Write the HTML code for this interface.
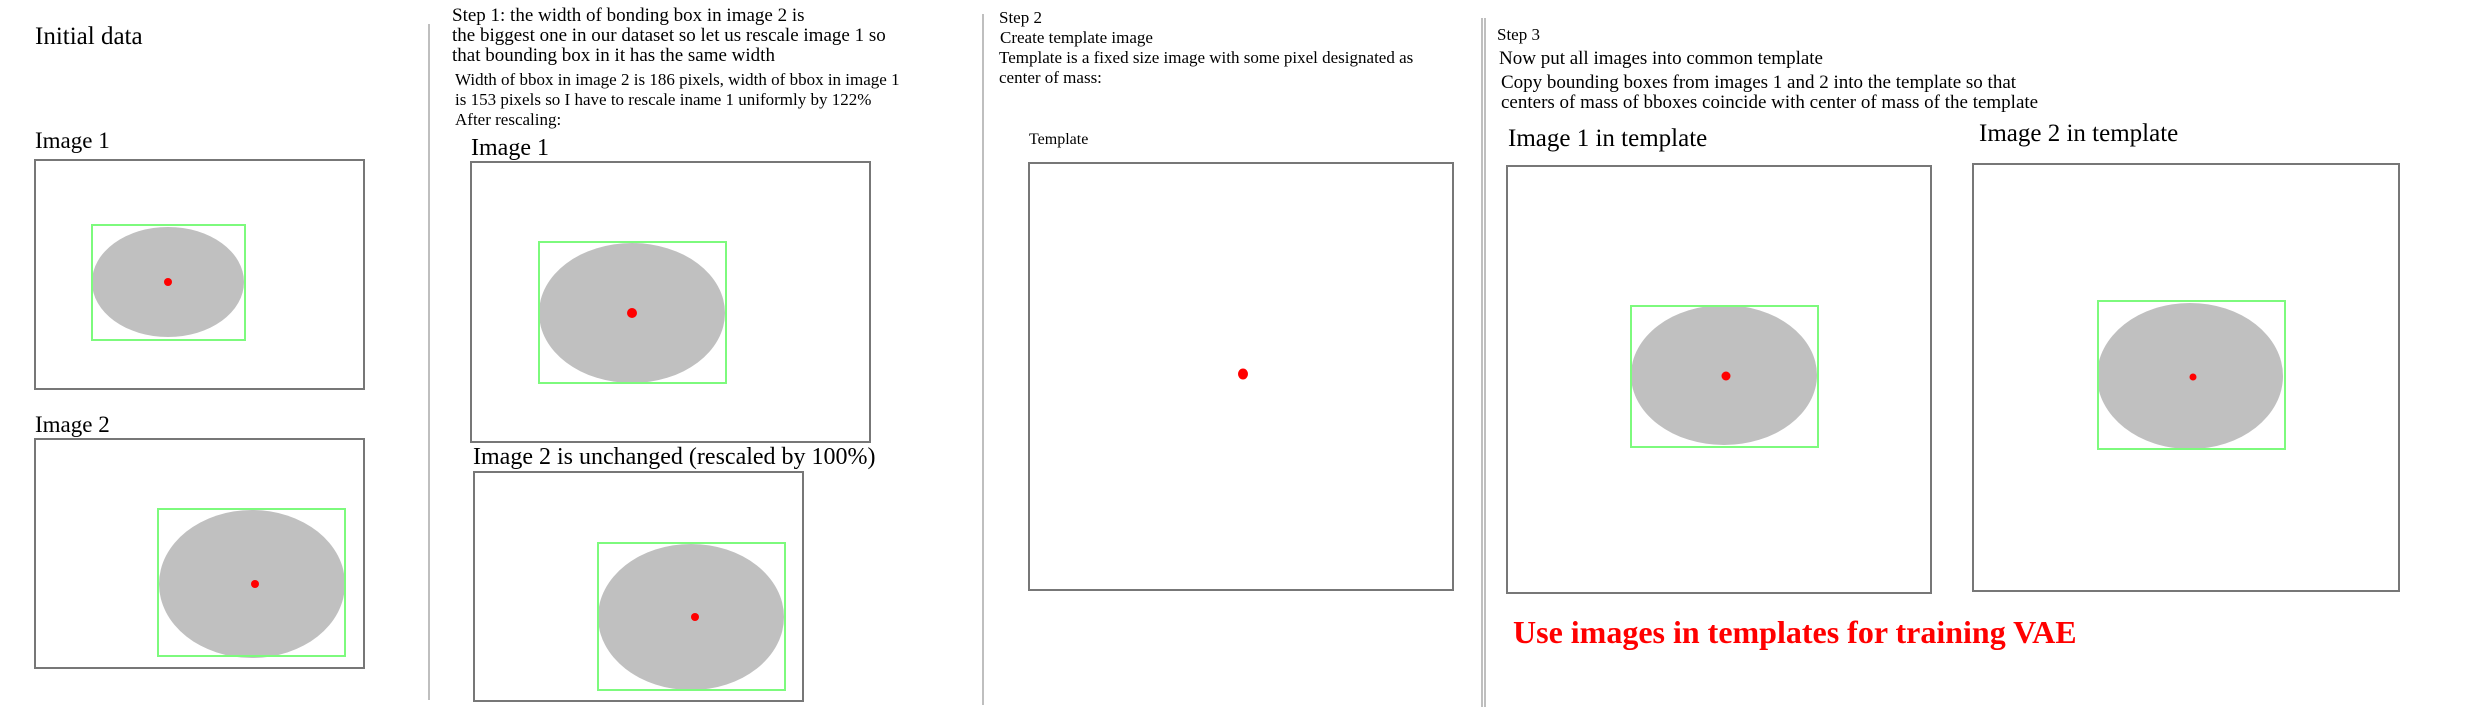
<!DOCTYPE html>
<html><head><meta charset="utf-8"><style>
html,body{margin:0;padding:0;background:#fff;}
svg{display:block;}
text{font-family:"Liberation Serif",serif;fill:#000;}
.box{fill:#fff;stroke:#777;stroke-width:2;}
.bb{fill:none;stroke:#7dfa7d;stroke-width:2;}
.el{fill:#c0c0c0;}
.dot{fill:#f00;}
.div{stroke:#aaa;stroke-width:1.5;}
</style></head><body>
<svg width="2469" height="717" viewBox="0 0 2469 717">
<!-- Column 1 -->
<text x="35" y="44" font-size="25">Initial data</text>
<text x="35" y="148" font-size="23">Image 1</text>
<rect class="box" x="35" y="160" width="329" height="229"/>
<ellipse class="el" cx="168" cy="282" rx="76" ry="55"/>
<rect class="bb" x="92" y="225" width="153" height="115"/>
<circle class="dot" cx="168" cy="282" r="4"/>
<text x="35" y="432" font-size="23">Image 2</text>
<rect class="box" x="35" y="439" width="329" height="229"/>
<ellipse class="el" cx="252" cy="584" rx="93" ry="74"/>
<rect class="bb" x="158" y="509" width="187" height="147"/>
<circle class="dot" cx="255" cy="584" r="4"/>
<line class="div" x1="429" y1="24" x2="429" y2="700"/>
<!-- Column 2 -->
<g font-size="19">
<text x="452" y="21">Step 1: the width of bonding box in image 2 is</text>
<text x="452" y="41">the biggest one in our dataset so let us rescale image 1 so</text>
<text x="452" y="61">that bounding box in it has the same width</text>
<text x="455" y="85" font-size="17">Width of bbox in image 2 is 186 pixels, width of bbox in image 1</text>
<text x="455" y="105" font-size="17">is 153 pixels so I have to rescale iname 1 uniformly by 122%</text>
<text x="455" y="125" font-size="17">After rescaling:</text>
</g>
<text x="471" y="155" font-size="24">Image 1</text>
<rect class="box" x="471" y="162" width="399" height="280"/>
<ellipse class="el" cx="632" cy="313" rx="93" ry="70"/>
<rect class="bb" x="539" y="242" width="187" height="141"/>
<circle class="dot" cx="632" cy="313" r="5"/>
<text x="473" y="464" font-size="24">Image 2 <tspan font-size="24">is unchanged (rescaled by 100%)</tspan></text>
<rect class="box" x="474" y="472" width="329" height="229"/>
<ellipse class="el" cx="691" cy="617" rx="93" ry="73"/>
<rect class="bb" x="598" y="543" width="187" height="147"/>
<circle class="dot" cx="695" cy="617" r="4"/>
<line class="div" x1="983" y1="14" x2="983" y2="705"/>
<!-- Column 3 -->
<g font-size="17">
<text x="999" y="23">Step 2</text>
<text x="1000" y="43">Create template image</text>
<text x="999" y="63">Template is a fixed size image with some pixel designated as</text>
<text x="999" y="83">center of mass:</text>
</g>
<text x="1029" y="144" font-size="16">Template</text>
<rect class="box" x="1029" y="163" width="424" height="427"/>
<ellipse class="dot" cx="1243" cy="374" rx="5" ry="5.5"/>
<line class="div" x1="1482" y1="18" x2="1482" y2="707"/>
<line class="div" x1="1485" y1="18" x2="1485" y2="707"/>
<!-- Column 4 -->
<g font-size="19">
<text x="1497" y="40" font-size="17">Step 3</text>
<text x="1499" y="64">Now put all images into common template</text>
<text x="1501" y="88">Copy bounding boxes from images 1 and 2 into the template so that</text>
<text x="1501" y="108">centers of mass of bboxes coincide with center of mass of the template</text>
</g>
<text x="1508" y="146" font-size="25">Image 1 in template</text>
<rect class="box" x="1507" y="166" width="424" height="427"/>
<ellipse class="el" cx="1724" cy="375" rx="93" ry="70"/>
<rect class="bb" x="1631" y="306" width="187" height="141"/>
<circle class="dot" cx="1726" cy="376" r="4.5"/>
<text x="1979" y="141" font-size="25">Image 2 in template</text>
<rect class="box" x="1973" y="164" width="426" height="427"/>
<ellipse class="el" cx="2190" cy="376" rx="93" ry="73"/>
<rect class="bb" x="2098" y="301" width="187" height="148"/>
<circle class="dot" cx="2193" cy="377" r="3.5"/>
<text x="1513" y="643" font-size="32" font-weight="bold" style="fill:#f00">Use images in templates for training VAE</text>
</svg>
</body></html>
